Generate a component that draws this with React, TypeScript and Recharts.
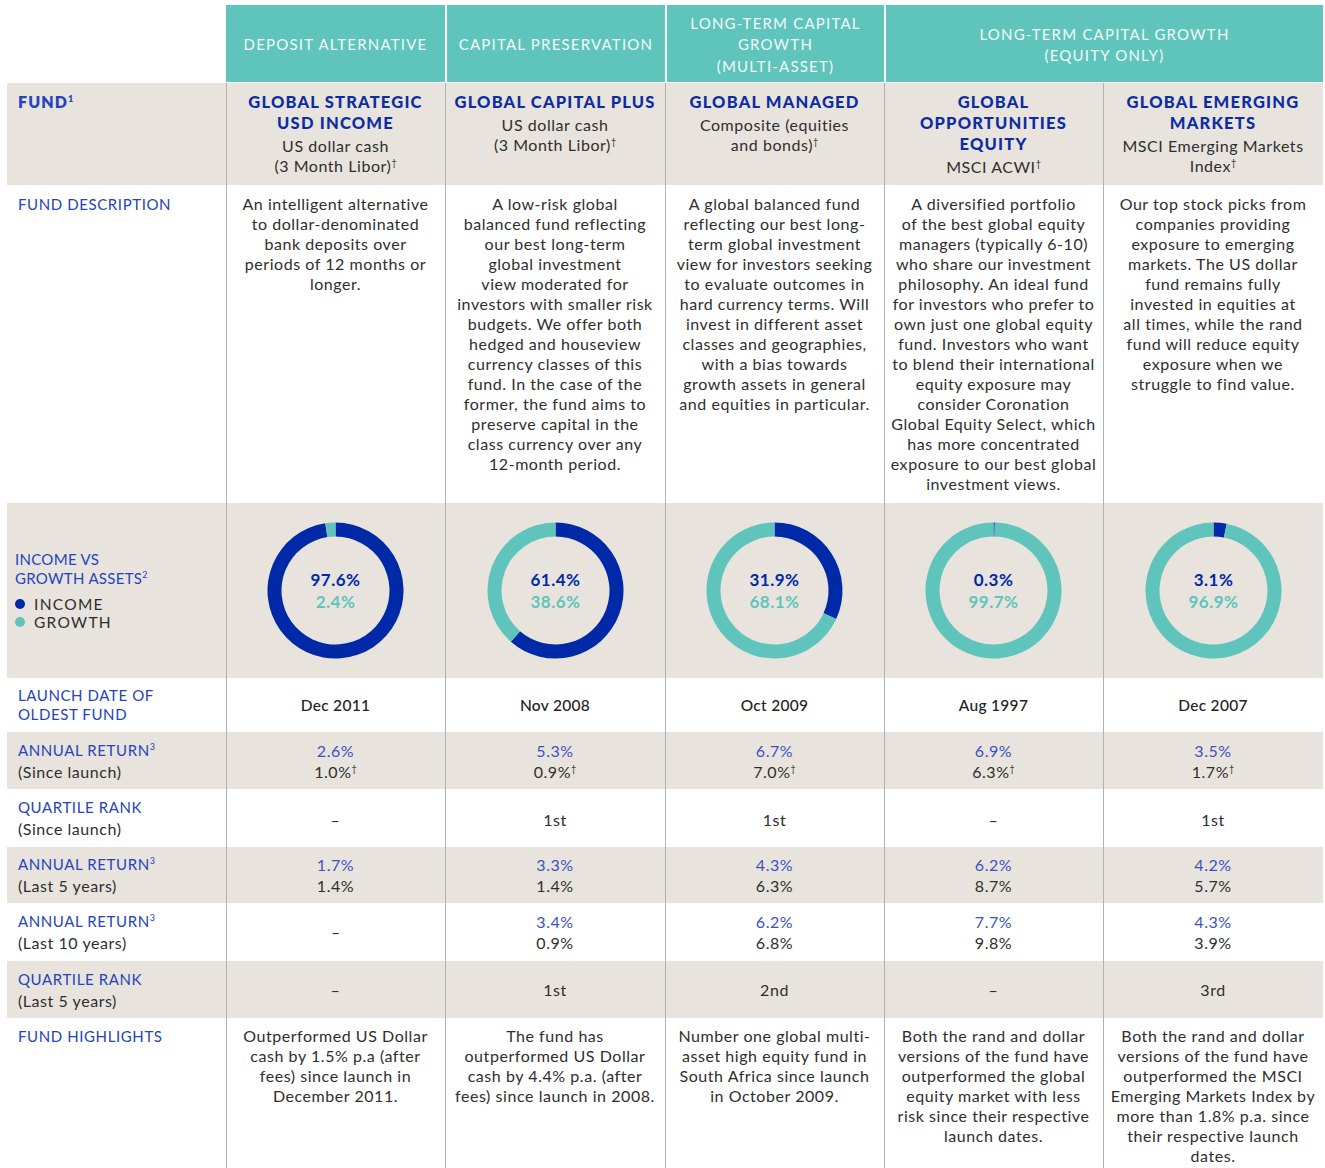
import React from 'react'
import { Cell, Label, Pie, PieChart } from 'recharts'

// ---- data ----
const headerGroups = [
  'DEPOSIT ALTERNATIVE',
  'CAPITAL PRESERVATION',
  'LONG-TERM CAPITAL\nGROWTH\n(MULTI-ASSET)',
  'LONG-TERM CAPITAL GROWTH\n(EQUITY ONLY)',
]
const fundNames = [
  'GLOBAL STRATEGIC\nUSD INCOME',
  'GLOBAL CAPITAL PLUS',
  'GLOBAL MANAGED',
  'GLOBAL\nOPPORTUNITIES\nEQUITY',
  'GLOBAL EMERGING\nMARKETS',
]
const benchmarks = [
  'US dollar cash\n(3 Month Libor)',
  'US dollar cash\n(3 Month Libor)',
  'Composite (equities\nand bonds)',
  'MSCI ACWI',
  'MSCI Emerging Markets\nIndex',
]
const descriptions = [
  'An intelligent alternative\nto dollar-denominated\nbank deposits over\nperiods of 12 months or\nlonger.',
  'A low-risk global\nbalanced fund reflecting\nour best long-term\nglobal investment\nview moderated for\ninvestors with smaller risk\nbudgets. We offer both\nhedged and houseview\ncurrency classes of this\nfund. In the case of the\nformer, the fund aims to\npreserve capital in the\nclass currency over any\n12-month period.',
  'A global balanced fund\nreflecting our best long-\nterm global investment\nview for investors seeking\nto evaluate outcomes in\nhard currency terms. Will\ninvest in different asset\nclasses and geographies,\nwith a bias towards\ngrowth assets in general\nand equities in particular.',
  'A diversified portfolio\nof the best global equity\nmanagers (typically 6-10)\nwho share our investment\nphilosophy. An ideal fund\nfor investors who prefer to\nown just one global equity\nfund. Investors who want\nto blend their international\nequity exposure may\nconsider Coronation\nGlobal Equity Select, which\nhas more concentrated\nexposure to our best global\ninvestment views.',
  'Our top stock picks from\ncompanies providing\nexposure to emerging\nmarkets. The US dollar\nfund remains fully\ninvested in equities at\nall times, while the rand\nfund will reduce equity\nexposure when we\nstruggle to find value.',
]
const incomeShare = [97.6, 61.4, 31.9, 0.3, 3.1]
const growthShare = [2.4, 38.6, 68.1, 99.7, 96.9]
const launchDates = ['Dec 2011', 'Nov 2008', 'Oct 2009', 'Aug 1997', 'Dec 2007']
const sinceLaunchFund = [2.6, 5.3, 6.7, 6.9, 3.5]
const sinceLaunchBench = [1.0, 0.9, 7.0, 6.3, 1.7]
const quartileSinceLaunch = ['–', '1st', '1st', '–', '1st']
const fiveYearFund = [1.7, 3.3, 4.3, 6.2, 4.2]
const fiveYearBench = [1.4, 1.4, 6.3, 8.7, 5.7]
const tenYearFund: (number | null)[] = [null, 3.4, 6.2, 7.7, 4.3]
const tenYearBench: (number | null)[] = [null, 0.9, 6.8, 9.8, 3.9]
const quartileFiveYear = ['–', '1st', '2nd', '–', '3rd']
const highlights = [
  'Outperformed US Dollar\ncash by 1.5% p.a (after\nfees) since launch in\nDecember 2011.',
  'The fund has\noutperformed US Dollar\ncash by 4.4% p.a. (after\nfees) since launch in 2008.',
  'Number one global multi-\nasset high equity fund in\nSouth Africa since launch\nin October 2009.',
  'Both the rand and dollar\nversions of the fund have\noutperformed the global\nequity market with less\nrisk since their respective\nlaunch dates.',
  'Both the rand and dollar\nversions of the fund have\noutperformed the MSCI\nEmerging Markets Index by\nmore than 1.8% p.a. since\ntheir respective launch\ndates.',
]

// ---- styling ----
const FONT = 'Lato, "Noto Sans", sans-serif'
const TEAL = '#5ec4bc'
const NAVY = '#0029a8'
const BEIGE = '#e8e4dd'
const LABEL_BLUE = '#2443bd'
const VALUE_BLUE = '#3a52c4'
const TEXT = '#2e2e2e'
const RULE = '#aeb1b6'
const COL_X = [226, 445, 665, 884, 1103, 1323]
const LEFT = 7
const BODY = { fontSize: 16, letterSpacing: 0.55 }

const pct = (v: number | null) => (v == null ? '–' : `${v.toFixed(1)}%`)
const Sup = ({ c }: { c: string }) => (
  <span style={{ fontSize: 9, lineHeight: '9px', position: 'relative', top: -6, letterSpacing: 0 }}>{c}</span>
)

function Row({
  top,
  height,
  bg,
  children,
}: {
  top: number
  height: number
  bg?: string
  children: React.ReactNode
}) {
  return (
    <div
      style={{
        position: 'absolute',
        left: LEFT,
        top,
        width: COL_X[5] - LEFT,
        height,
        background: bg ?? '#fff',
      }}
    >
      {children}
    </div>
  )
}

function Cell5({
  i,
  align = 'center',
  padTop = 0,
  children,
}: {
  i: number
  align?: 'center' | 'flex-start'
  padTop?: number
  children: React.ReactNode
}) {
  return (
    <div
      style={{
        position: 'absolute',
        left: COL_X[i] - LEFT,
        width: COL_X[i + 1] - COL_X[i],
        top: 0,
        bottom: 0,
        paddingTop: padTop,
        boxSizing: 'border-box',
        display: 'flex',
        flexDirection: 'column',
        alignItems: 'center',
        justifyContent: align,
        textAlign: 'center',
        whiteSpace: 'pre-line',
      }}
    >
      {children}
    </div>
  )
}

function RowLabel({
  title,
  sup,
  sub,
  align = 'center',
  padTop = 0,
  lh = 21,
}: {
  title: string
  sup?: string
  sub?: string
  align?: 'center' | 'flex-start'
  padTop?: number
  lh?: number
}) {
  return (
    <div
      style={{
        position: 'absolute',
        left: 11,
        width: 205,
        top: 0,
        bottom: 0,
        paddingTop: padTop,
        boxSizing: 'border-box',
        display: 'flex',
        flexDirection: 'column',
        justifyContent: align,
        whiteSpace: 'pre-line',
        lineHeight: `${lh}px`,
      }}
    >
      <div style={{ color: LABEL_BLUE, fontSize: 15, letterSpacing: 0.6 }}>
        {title}
        {sup && <Sup c={sup} />}
      </div>
      {sub && <div style={{ color: TEXT, ...BODY }}>{sub}</div>}
    </div>
  )
}

function ReturnPair({ fund, bench, dagger }: { fund: number | null; bench: number | null; dagger?: boolean }) {
  if (fund == null) return <div style={{ color: TEXT, fontSize: 15 }}>–</div>
  return (
    <div style={{ lineHeight: '21px', ...BODY }}>
      <div style={{ color: VALUE_BLUE }}>{pct(fund)}</div>
      <div style={{ color: TEXT }}>
        {pct(bench)}
        {dagger && <Sup c="†" />}
      </div>
    </div>
  )
}

function Donut({ income, growth }: { income: number; growth: number }) {
  const data = [
    { name: 'Income', value: income },
    { name: 'Growth', value: growth },
  ]
  return (
    <PieChart width={219} height={175}>
      <Pie
        data={data}
        dataKey="value"
        nameKey="name"
        cx="50%"
        cy="50%"
        innerRadius={54}
        outerRadius={68}
        startAngle={90}
        endAngle={-270}
        stroke="none"
        isAnimationActive={false}
      >
        <Cell fill={NAVY} />
        <Cell fill={TEAL} />
        <Label
          content={(props: any) => {
            const vb = props.viewBox || {}
            const cx = vb.cx ?? 109.5
            const cy = vb.cy ?? 87.5
            return (
              <g fontFamily={FONT} fontWeight={700} fontSize={17} textAnchor="middle">
                <text x={cx} y={cy - 5} fill={NAVY} letterSpacing={0.5}>
                  {pct(income)}
                </text>
                <text x={cx} y={cy + 17} fill={TEAL} letterSpacing={0.5}>
                  {pct(growth)}
                </text>
              </g>
            )
          }}
        />
      </Pie>
    </PieChart>
  )
}

const idx = [0, 1, 2, 3, 4]

export default function App() {
  return (
    <div
      style={{
        position: 'absolute',
        left: 0,
        top: 0,
        width: 1325,
        height: 1168,
        background: '#fff',
        fontFamily: FONT,
        color: TEXT,
        overflow: 'hidden',
      }}
    >
      {/* header band */}
      <div
        style={{
          position: 'absolute',
          left: COL_X[0],
          top: 5,
          width: COL_X[5] - COL_X[0],
          height: 77,
          background: TEAL,
        }}
      />
      {headerGroups.map((h, g) => {
        const x0 = COL_X[g]
        const x1 = g === 3 ? COL_X[5] : COL_X[g + 1]
        return (
          <div
            key={g}
            style={{
              position: 'absolute',
              left: x0,
              width: x1 - x0,
              top: 5,
              height: 77,
              paddingTop: 3,
              display: 'flex',
              alignItems: 'center',
              justifyContent: 'center',
              textAlign: 'center',
              whiteSpace: 'pre-line',
              color: '#f4fbfa',
              fontSize: 15,
              letterSpacing: 1.2,
              lineHeight: '21.5px',
              borderLeft: g > 0 ? '2px solid #fff' : 'none',
              boxSizing: 'border-box',
            }}
          >
            {h}
          </div>
        )
      })}

      {/* fund row */}
      <Row top={83} height={102} bg={BEIGE}>
        <div
          style={{
            position: 'absolute',
            left: 11,
            top: 9,
            color: LABEL_BLUE,
            fontWeight: 800,
            fontSize: 16,
            letterSpacing: 1.1,
          }}
        >
          FUND<Sup c="1" />
        </div>
        {idx.map((i) => {
          const lines = benchmarks[i].split('\n')
          return (
            <Cell5 key={i} i={i} align="flex-start" padTop={9}>
              <div
                style={{
                  color: '#0c2ca3',
                  fontWeight: 900,
                  fontSize: 16.5,
                  letterSpacing: 1.2,
                  lineHeight: '21px',
                }}
              >
                {fundNames[i]}
              </div>
              <div style={{ ...BODY, lineHeight: '20px', marginTop: 2 }}>
                {lines.map((ln, k) => (
                  <div key={k}>
                    {ln}
                    {k === lines.length - 1 && <Sup c="†" />}
                  </div>
                ))}
              </div>
            </Cell5>
          )
        })}
      </Row>

      {/* description */}
      <Row top={186} height={316}>
        <RowLabel title="FUND DESCRIPTION" align="flex-start" padTop={8} lh={20} />
        {idx.map((i) => (
          <Cell5 key={i} i={i} align="flex-start" padTop={8}>
            <div style={{ ...BODY, lineHeight: '20px' }}>{descriptions[i]}</div>
          </Cell5>
        ))}
      </Row>

      {/* donuts */}
      <Row top={503} height={175} bg={BEIGE}>
        <div
          style={{
            position: 'absolute',
            left: 8,
            top: 47,
            fontSize: 15,
            letterSpacing: 0.3,
            lineHeight: '19px',
            color: LABEL_BLUE,
          }}
        >
          <div>INCOME VS</div>
          <div>
            GROWTH ASSETS<Sup c="2" />
          </div>
          <div style={{ marginTop: 7, color: TEXT, fontSize: 15.5, letterSpacing: 1.3, lineHeight: '18px' }}>
            {[
              ['INCOME', NAVY],
              ['GROWTH', TEAL],
            ].map(([t, c]) => (
              <div key={t} style={{ display: 'flex', alignItems: 'center' }}>
                <span
                  style={{
                    display: 'inline-block',
                    width: 10,
                    height: 10,
                    borderRadius: 5,
                    background: c,
                    marginRight: 9,
                  }}
                />
                {t}
              </div>
            ))}
          </div>
        </div>
        {idx.map((i) => (
          <Cell5 key={i} i={i}>
            <Donut income={incomeShare[i]} growth={growthShare[i]} />
          </Cell5>
        ))}
      </Row>

      {/* launch date */}
      <Row top={678} height={53}>
        <RowLabel title={'LAUNCH DATE OF\nOLDEST FUND'} lh={19} />
        {idx.map((i) => (
          <Cell5 key={i} i={i}>
            <div style={{ fontSize: 15.5, fontWeight: 500, letterSpacing: 0.3, color: '#222' }}>
              {launchDates[i]}
            </div>
          </Cell5>
        ))}
      </Row>

      {/* annual return since launch */}
      <Row top={732} height={57} bg={BEIGE}>
        <RowLabel title="ANNUAL RETURN" sup="3" sub="(Since launch)" />
        {idx.map((i) => (
          <Cell5 key={i} i={i}>
            <ReturnPair fund={sinceLaunchFund[i]} bench={sinceLaunchBench[i]} dagger />
          </Cell5>
        ))}
      </Row>

      {/* quartile since launch */}
      <Row top={790} height={56}>
        <RowLabel title="QUARTILE RANK" sub="(Since launch)" />
        {idx.map((i) => (
          <Cell5 key={i} i={i}>
            <div style={{ ...BODY, marginTop: 2 }}>{quartileSinceLaunch[i]}</div>
          </Cell5>
        ))}
      </Row>

      {/* annual return 5y */}
      <Row top={847} height={56} bg={BEIGE}>
        <RowLabel title="ANNUAL RETURN" sup="3" sub="(Last 5 years)" />
        {idx.map((i) => (
          <Cell5 key={i} i={i}>
            <ReturnPair fund={fiveYearFund[i]} bench={fiveYearBench[i]} />
          </Cell5>
        ))}
      </Row>

      {/* annual return 10y */}
      <Row top={904} height={56}>
        <RowLabel title="ANNUAL RETURN" sup="3" sub="(Last 10 years)" />
        {idx.map((i) => (
          <Cell5 key={i} i={i}>
            <ReturnPair fund={tenYearFund[i]} bench={tenYearBench[i]} />
          </Cell5>
        ))}
      </Row>

      {/* quartile 5y */}
      <Row top={961} height={57} bg={BEIGE}>
        <RowLabel title="QUARTILE RANK" sub="(Last 5 years)" />
        {idx.map((i) => (
          <Cell5 key={i} i={i}>
            <div style={{ ...BODY }}>{quartileFiveYear[i]}</div>
          </Cell5>
        ))}
      </Row>

      {/* highlights */}
      <Row top={1019} height={149}>
        <RowLabel title="FUND HIGHLIGHTS" align="flex-start" padTop={7} lh={20} />
        {idx.map((i) => (
          <Cell5 key={i} i={i} align="flex-start" padTop={7}>
            <div style={{ ...BODY, lineHeight: '20px' }}>{highlights[i]}</div>
          </Cell5>
        ))}
      </Row>

      {/* vertical rules */}
      {COL_X.slice(0, 5).map((x) => (
        <div
          key={x}
          style={{ position: 'absolute', left: x, top: 83, width: 1, height: 1168 - 83, background: RULE }}
        />
      ))}
    </div>
  )
}
